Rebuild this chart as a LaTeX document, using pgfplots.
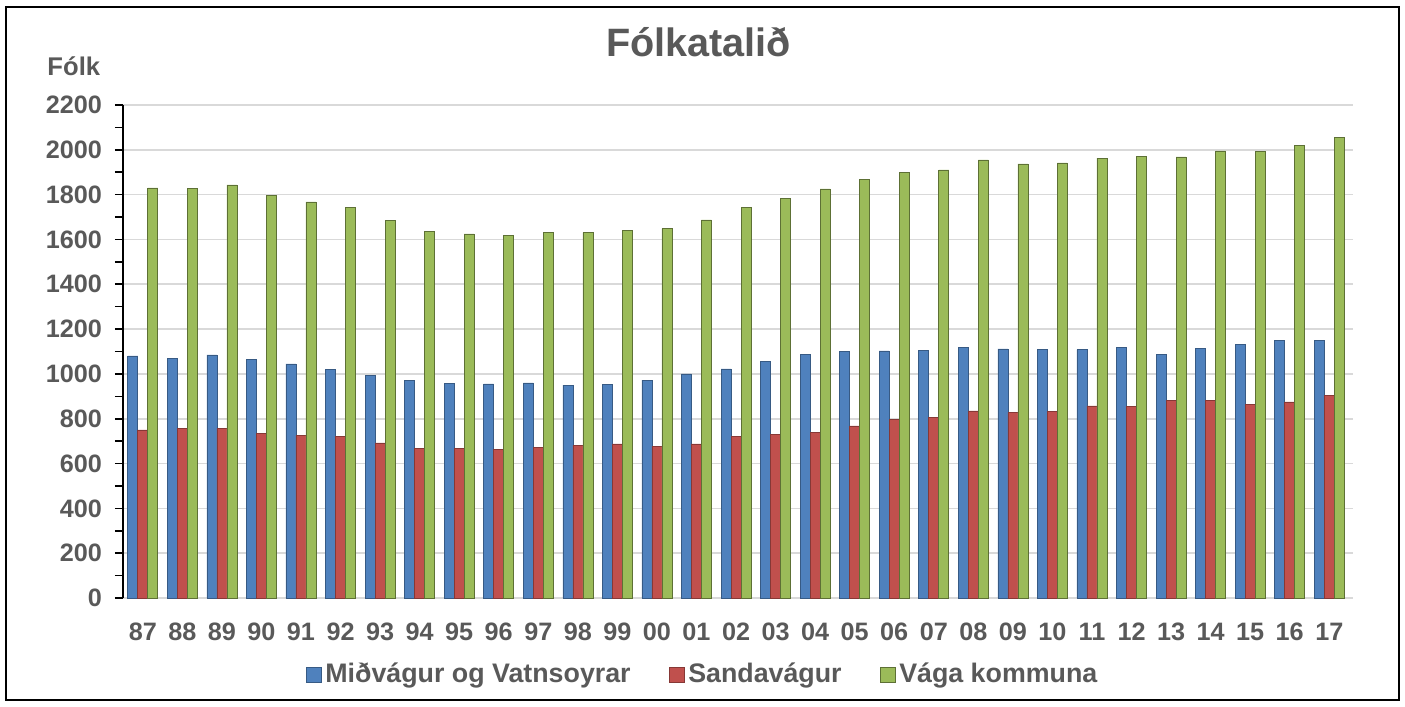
\documentclass[border=0pt]{standalone}
\usepackage{fontspec}
\setmainfont{Liberation Sans}
\usepackage{pgfplots}
\pgfplotsset{compat=1.18}
\definecolor{cblue}{HTML}{4F81BD}
\definecolor{cred}{HTML}{C0504D}
\definecolor{cgreen}{HTML}{9BBB59}
\definecolor{txt}{HTML}{595959}
\definecolor{gridc}{HTML}{D9D9D9}
\begin{document}
\begin{tikzpicture}
\begin{axis}[
  scale only axis, width=615pt, height=246.5pt,
  ymin=0, ymax=2200, ytick={0,200,...,2200}, minor y tick num=1,
  xmin=-0.5, xmax=30.6,
  xtick={0,...,30},
  xticklabels={87,88,89,90,91,92,93,94,95,96,97,98,99,00,01,02,03,04,05,06,07,08,09,10,11,12,13,14,15,16,17},
  ybar=0pt, bar width=5pt,
  ymajorgrids, grid style={gridc, line width=0.8pt},
  axis x line*=bottom, axis y line*=left,
  x axis line style={gridc, line width=0.8pt},
  y axis line style={black, line width=0.8pt},
  tick align=outside,
  x tick style={draw=none},
  major tick length=4pt, minor tick length=4pt,
  y tick style={black, line width=0.8pt},
  /pgf/number format/assume math mode=true,
  /pgf/number format/1000 sep={},
  ticklabel style={font=\fontsize{12.6}{14}\selectfont\bfseries, text=txt},
  xticklabel style={yshift=-5pt},
  yticklabel style={xshift=-3pt},
  title={Fólkatalið},
  title style={font=\fontsize{19.8}{22}\selectfont\bfseries, text=txt, at={(axis description cs:0.468,1.075)}, anchor=base},
  ylabel={Fólk},
  ylabel style={rotate=-90, font=\fontsize{12.8}{14}\selectfont\bfseries, text=txt, at={(axis description cs:-0.040,1.059)}, anchor=base},
  legend style={at={(axis description cs:0.472,-0.155)}, anchor=center, draw=none, fill=none,
    font=\fontsize{13.4}{15}\selectfont\bfseries, text=txt, legend columns=3,
    /tikz/every even column/.append style={column sep=17pt}},
  legend image code/.code={\fill[#1] (0pt,-3.8pt) rectangle (7.5pt,3.8pt);},
  clip=false,
]
\addplot[fill=cblue, draw=cblue!70!black, line width=0.3pt] coordinates {
(0,1080)(1,1070)(2,1085)(3,1065)(4,1045)(5,1020)(6,995)(7,970)(8,957)(9,955)(10,960)(11,950)(12,953)(13,972)(14,1000)(15,1022)(16,1057)(17,1088)(18,1100)(19,1103)(20,1105)(21,1120)(22,1112)(23,1110)(24,1108)(25,1117)(26,1087)(27,1113)(28,1130)(29,1148)(30,1150)};
\addplot[fill=cred, draw=cred!70!black, line width=0.3pt] coordinates {
(0,750)(1,758)(2,757)(3,733)(4,725)(5,722)(6,692)(7,668)(8,668)(9,662)(10,673)(11,680)(12,688)(13,677)(14,688)(15,722)(16,730)(17,738)(18,768)(19,797)(20,805)(21,835)(22,827)(23,833)(24,857)(25,855)(26,880)(27,882)(28,865)(29,875)(30,905)};
\addplot[fill=cgreen, draw=cgreen!60!black, line width=0.3pt] coordinates {
(0,1830)(1,1828)(2,1843)(3,1797)(4,1768)(5,1742)(6,1684)(7,1637)(8,1625)(9,1617)(10,1633)(11,1630)(12,1640)(13,1648)(14,1687)(15,1743)(16,1784)(17,1826)(18,1868)(19,1899)(20,1910)(21,1955)(22,1937)(23,1942)(24,1963)(25,1971)(26,1968)(27,1995)(28,1993)(29,2020)(30,2055)};
\legend{Miðvágur og Vatnsoyrar,Sandavágur,Vága kommuna}
\end{axis}
\draw[black,line width=0.8pt] (-58.5pt,-51pt) rectangle (638pt,295.5pt);
\useasboundingbox (-61.5pt,-54.5pt) rectangle (641pt,299pt);
\end{tikzpicture}
\end{document}
